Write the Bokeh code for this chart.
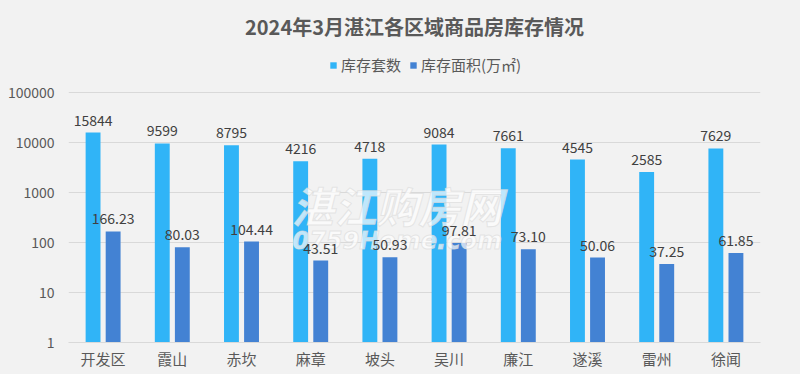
from bokeh.plotting import figure
from bokeh.models import ColumnDataSource, LabelSet, Legend, LegendItem, FixedTicker, Label
from bokeh.transform import dodge
from bokeh.embed import file_html
from bokeh.resources import INLINE
from bokeh.core.properties import value

categories = ["开发区", "霞山", "赤坎", "麻章", "坡头", "吴川", "廉江", "遂溪", "雷州", "徐闻"]
units = [15844, 9599, 8795, 4216, 4718, 9084, 7661, 4545, 2585, 7629]
area = [166.23, 80.03, 104.44, 43.51, 50.93, 97.81, 73.10, 50.06, 37.25, 61.85]
units_labels = [str(v) for v in units]
area_labels = ["%.2f" % v for v in area]
y_ticks = [1, 10, 100, 1000, 10000, 100000]

FONT = "Noto Sans CJK SC"
BG = "#f2f2f2"
C1 = "#30b4f7"
C2 = "#4382d3"
TXT = "#595959"

src = ColumnDataSource(dict(cat=categories, units=units, area=area,
                            ul=units_labels, al=area_labels,
                            base=[1] * len(categories)))

# frame extends above the top tick so the legend can sit inside it
y_top = 10 ** (293 / 50)
p = figure(x_range=categories, y_range=(1, y_top), y_axis_type="log",
           frame_width=692, frame_height=293, output_backend="svg", toolbar_location=None,
           min_border_left=68, min_border_right=40, min_border_top=45, min_border_bottom=36)
p.background_fill_color = BG
p.border_fill_color = BG
p.outline_line_color = None

r1 = p.vbar(x=dodge("cat", -0.145, range=p.x_range), top="units", bottom="base", width=0.215,
            source=src, fill_color=C1, line_color=None)
r2 = p.vbar(x=dodge("cat", 0.145, range=p.x_range), top="area", bottom="base", width=0.215,
            source=src, fill_color=C2, line_color=None)

# watermark (drawn over bars, under data labels)
p.add_layout(Label(x=4.75, y=575, text="湛江购房网", text_font=FONT, text_font_size="42px",
                   text_font_style="bold italic", text_color="white", text_alpha=0.7,
                   text_align="center", text_baseline="middle",
                   text_outline_color="#dcdcdc"))
p.add_layout(Label(x=4.75, y=105, text="0759Home.com", text_font="DejaVu Sans", text_font_size="24px",
                   text_font_style="bold italic", text_color="white", text_alpha=0.7,
                   text_align="center", text_baseline="middle",
                   text_outline_color="#dcdcdc"))

for col, lab, off in (("units", "ul", -0.145), ("area", "al", 0.145)):
    ls = LabelSet(x=dodge("cat", off, range=p.x_range), y=col, text=lab, source=src,
                  y_offset=7, text_align="center", text_baseline="bottom",
                  text_font=value(FONT), text_font_size="14px", text_color="#404040")
    p.add_layout(ls)

p.yaxis.ticker = FixedTicker(ticks=y_ticks)
p.yaxis.major_label_overrides = {t: str(t) for t in y_ticks}
p.yaxis.axis_line_color = None
p.yaxis.major_tick_line_color = None
p.yaxis.minor_tick_line_color = None
p.yaxis.major_label_standoff = 8
p.yaxis.major_label_text_font = FONT
p.yaxis.major_label_text_font_size = "14px"
p.yaxis.major_label_text_color = TXT

p.xaxis.axis_line_color = "#d9d9d9"
p.xaxis.major_tick_line_color = None
p.xaxis.major_tick_out = 0
p.xaxis.major_label_standoff = 5
p.xaxis.major_label_text_font = FONT
p.xaxis.major_label_text_font_size = "15px"
p.xaxis.major_label_text_color = TXT

p.xgrid.grid_line_color = None
p.ygrid.grid_line_color = "#d9d9d9"
p.ygrid.minor_grid_line_color = None
p.x_range.range_padding = 0

legend = Legend(items=[LegendItem(label="库存套数", renderers=[r1]),
                       LegendItem(label="库存面积(万㎡)", renderers=[r2])],
                orientation="horizontal", location=(261, 267),
                background_fill_alpha=0, border_line_color=None,
                label_text_font=FONT, label_text_font_size="15px", label_text_color=TXT,
                glyph_width=8, glyph_height=8, spacing=8, label_standoff=4,
                padding=2, margin=0)
p.add_layout(legend)

p.title.text = "2024年3月湛江各区域商品房库存情况"
p.title.align = "center"
p.title.text_font = FONT
p.title.text_font_size = "20px"
p.title.text_font_style = "bold"
p.title.text_color = TXT
p.title.standoff = 18

html = file_html(p, INLINE)
html = html.replace("</head>", "<style>html,body{background:#f2f2f2;}</style></head>", 1)
open("out.html", "w").write(html)
